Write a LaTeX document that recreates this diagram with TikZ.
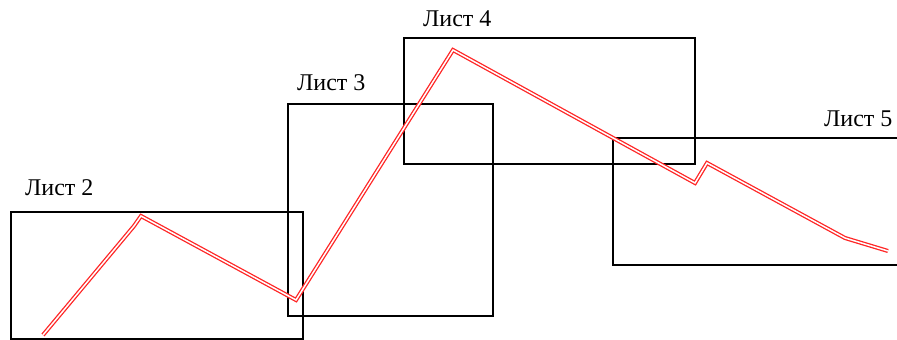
\documentclass[tikz,border=0pt]{standalone}
\usepackage{fontspec}
\setmainfont{Liberation Serif}
\begin{document}
\begin{tikzpicture}[x=1pt,y=-1pt,
  sheet/.style={draw=black,line width=1.3pt},
  track/.style={draw=red!85!white,double=white,double distance=1.5pt,line width=1.3pt,line join=miter},
  lbl/.style={anchor=base west,inner sep=0pt,font=\fontsize{24}{28}\selectfont}]
\useasboundingbox (0,0) rectangle (897,340);
% sheets
\draw[sheet] (11,212) rectangle (303,339);
\draw[sheet] (288,104) rectangle (493,316);
\draw[sheet] (404,38) rectangle (695,164);
\draw[sheet] (897,138) -- (613,138) -- (613,265) -- (897,265);
% labels
\node[lbl] (l2) at (25,195) {Лист 2};
\node[lbl] (l3) at (297,90) {Лист 3};
\node[lbl] (l4) at (423,26) {Лист 4};
\node[lbl] (l5) at (824,126) {Лист 5};
% route
\coordinate (p0) at (43,335);
\coordinate (p1) at (134,226);
\coordinate (p2) at (141,216);
\coordinate (p3) at (296,300);
\coordinate (p4) at (453,50);
\coordinate (p5) at (695,183);
\coordinate (p6) at (707,163);
\coordinate (p7) at (845,238);
\coordinate (p8) at (888,251);
\draw[track] (p0) -- (p1) -- (p2) -- (p3) -- (p4) -- (p5) -- (p6) -- (p7) -- (p8);
\end{tikzpicture}
\end{document}
